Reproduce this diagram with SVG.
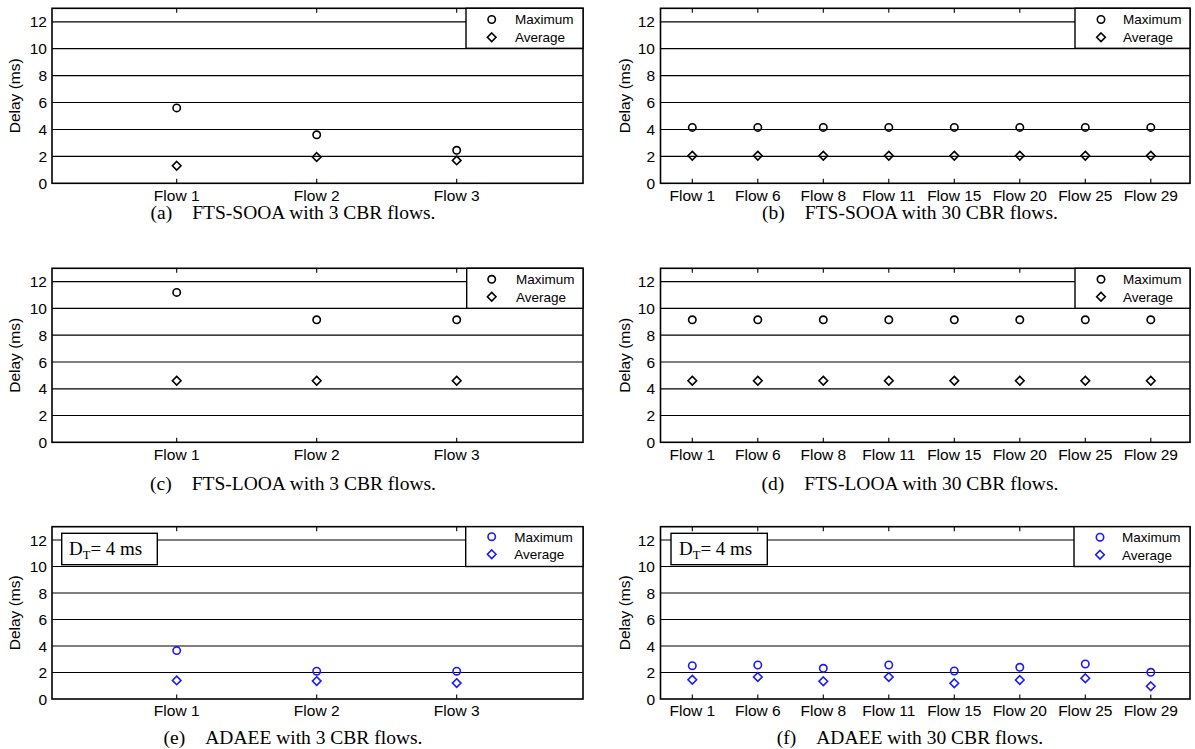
<svg xmlns="http://www.w3.org/2000/svg" xmlns:xlink="http://www.w3.org/1999/xlink" width="1195" height="749" viewBox="0 0 1195 749">
<style>
.bg{fill:#fff}
.grid{stroke:#000;stroke-width:1.2}
.tick{stroke:#000;stroke-width:1.1}
.box{fill:none;stroke:#000;stroke-width:1.6}
.lgb{fill:#fff;stroke:#000;stroke-width:1.4}
.t{font-family:"Liberation Sans",Arial,sans-serif;font-size:15.5px;fill:#000}
.ye{text-anchor:end}
.xm{text-anchor:middle}
.lg{font-family:"Liberation Sans",Arial,sans-serif;font-size:13.5px;fill:#000}
.cap{font-family:"Liberation Serif","Times New Roman",serif;font-size:19.5px;fill:#000;text-anchor:middle}
.dt{font-family:"Liberation Serif","Times New Roman",serif;font-size:19px;fill:#000}
.k{fill:none;stroke:#000;stroke-width:1.6}
.b{fill:none;stroke:#1a1aff;stroke-width:1.6}
</style>
<defs>
<circle id="mc" cx="0" cy="0" r="3.7"/>
<path id="md" d="M0,-4.3 L4.3,0 L0,4.3 L-4.3,0Z"/>
</defs>
<rect class="bg" x="0" y="0" width="1195" height="749"/>

<!-- Panel A -->
<g id="panel-a">
<g class="grid">
<line x1="52" y1="156.4" x2="583" y2="156.4"/><line x1="52" y1="129.5" x2="583" y2="129.5"/><line x1="52" y1="102.5" x2="583" y2="102.5"/><line x1="52" y1="75.6" x2="583" y2="75.6"/><line x1="52" y1="48.7" x2="583" y2="48.7"/><line x1="52" y1="21.8" x2="583" y2="21.8"/>
</g>
<g class="tick">
<line x1="176.7" y1="8.3" x2="176.7" y2="12.8"/><line x1="316.7" y1="8.3" x2="316.7" y2="12.8"/><line x1="456.7" y1="8.3" x2="456.7" y2="12.8"/>
<line x1="176.7" y1="183.3" x2="176.7" y2="178.8"/><line x1="316.7" y1="183.3" x2="316.7" y2="178.8"/><line x1="456.7" y1="183.3" x2="456.7" y2="178.8"/>
</g>
<rect class="box" x="52" y="8.3" width="531" height="175"/>
<g class="t ye">
<text x="47" y="188.9">0</text><text x="47" y="162">2</text><text x="47" y="135.1">4</text><text x="47" y="108.1">6</text><text x="47" y="81.2">8</text><text x="47" y="54.3">10</text><text x="47" y="27.4">12</text>
</g>
<text class="t xm" transform="translate(20,95.8) rotate(-90)">Delay (ms)</text>
<g class="t xm">
<text x="176.7" y="200.5">Flow 1</text><text x="316.7" y="200.5">Flow 2</text><text x="456.7" y="200.5">Flow 3</text>
</g>
<g id="legend-a">
<rect class="lgb" x="466" y="8.3" width="117" height="40"/>
<use href="#mc" class="k" x="491.7" y="19.5"/>
<use href="#md" class="k" x="491.7" y="37.3"/>
<text class="lg" x="515" y="24.3">Maximum</text>
<text class="lg" x="515" y="42">Average</text>
</g>
<g id="data-a">
<use href="#mc" class="k" x="176.7" y="107.9"/><use href="#md" class="k" x="176.7" y="165.8"/>
<use href="#mc" class="k" x="316.7" y="134.8"/><use href="#md" class="k" x="316.7" y="157"/>
<use href="#mc" class="k" x="456.7" y="150.3"/><use href="#md" class="k" x="456.7" y="160.4"/>
</g>
<text class="cap" x="293" y="219">(a)<tspan dx="20">FTS-SOOA with 3 CBR flows.</tspan></text>
</g>

<!-- Panel B -->
<g id="panel-b">
<g class="grid">
<line x1="660.5" y1="156.4" x2="1190" y2="156.4"/><line x1="660.5" y1="129.5" x2="1190" y2="129.5"/><line x1="660.5" y1="102.5" x2="1190" y2="102.5"/><line x1="660.5" y1="75.6" x2="1190" y2="75.6"/><line x1="660.5" y1="48.7" x2="1190" y2="48.7"/><line x1="660.5" y1="21.8" x2="1190" y2="21.8"/>
</g>
<g class="tick">
<line x1="692.3" y1="8.3" x2="692.3" y2="12.8"/><line x1="757.8" y1="8.3" x2="757.8" y2="12.8"/><line x1="823.3" y1="8.3" x2="823.3" y2="12.8"/><line x1="888.8" y1="8.3" x2="888.8" y2="12.8"/><line x1="954.3" y1="8.3" x2="954.3" y2="12.8"/><line x1="1019.8" y1="8.3" x2="1019.8" y2="12.8"/>
<line x1="692.3" y1="183.3" x2="692.3" y2="178.8"/><line x1="757.8" y1="183.3" x2="757.8" y2="178.8"/><line x1="823.3" y1="183.3" x2="823.3" y2="178.8"/><line x1="888.8" y1="183.3" x2="888.8" y2="178.8"/><line x1="954.3" y1="183.3" x2="954.3" y2="178.8"/><line x1="1019.8" y1="183.3" x2="1019.8" y2="178.8"/><line x1="1085.3" y1="183.3" x2="1085.3" y2="178.8"/><line x1="1150.8" y1="183.3" x2="1150.8" y2="178.8"/>
</g>
<rect class="box" x="660.5" y="8.3" width="529.5" height="175"/>
<g class="t ye">
<text x="655" y="188.9">0</text><text x="655" y="162">2</text><text x="655" y="135.1">4</text><text x="655" y="108.1">6</text><text x="655" y="81.2">8</text><text x="655" y="54.3">10</text><text x="655" y="27.4">12</text>
</g>
<text class="t xm" transform="translate(630,95.8) rotate(-90)">Delay (ms)</text>
<g class="t xm">
<text x="692.3" y="200.5">Flow 1</text><text x="757.8" y="200.5">Flow 6</text><text x="823.3" y="200.5">Flow 8</text><text x="888.8" y="200.5">Flow 11</text><text x="954.3" y="200.5">Flow 15</text><text x="1019.8" y="200.5">Flow 20</text><text x="1085.3" y="200.5">Flow 25</text><text x="1150.8" y="200.5">Flow 29</text>
</g>
<g id="legend-b">
<rect class="lgb" x="1075" y="8.3" width="115" height="40"/>
<use href="#mc" class="k" x="1101" y="19.5"/>
<use href="#md" class="k" x="1101" y="37.3"/>
<text class="lg" x="1123" y="24.3">Maximum</text>
<text class="lg" x="1123" y="42">Average</text>
</g>
<g id="data-b">
<use href="#mc" class="k" x="692.3" y="127.4"/><use href="#md" class="k" x="692.3" y="155.7"/>
<use href="#mc" class="k" x="757.8" y="127.4"/><use href="#md" class="k" x="757.8" y="155.7"/>
<use href="#mc" class="k" x="823.3" y="127.4"/><use href="#md" class="k" x="823.3" y="155.7"/>
<use href="#mc" class="k" x="888.8" y="127.4"/><use href="#md" class="k" x="888.8" y="155.7"/>
<use href="#mc" class="k" x="954.3" y="127.4"/><use href="#md" class="k" x="954.3" y="155.7"/>
<use href="#mc" class="k" x="1019.8" y="127.4"/><use href="#md" class="k" x="1019.8" y="155.7"/>
<use href="#mc" class="k" x="1085.3" y="127.4"/><use href="#md" class="k" x="1085.3" y="155.7"/>
<use href="#mc" class="k" x="1150.8" y="127.4"/><use href="#md" class="k" x="1150.8" y="155.7"/>
</g>
<text class="cap" x="910" y="219">(b)<tspan dx="20">FTS-SOOA with 30 CBR flows.</tspan></text>
</g>

<!-- Panel C -->
<g id="panel-c">
<g class="grid">
<line x1="52" y1="415.5" x2="583" y2="415.5"/><line x1="52" y1="388.8" x2="583" y2="388.8"/><line x1="52" y1="362" x2="583" y2="362"/><line x1="52" y1="335.2" x2="583" y2="335.2"/><line x1="52" y1="308.4" x2="583" y2="308.4"/><line x1="52" y1="281.7" x2="583" y2="281.7"/>
</g>
<g class="tick">
<line x1="176.7" y1="268.3" x2="176.7" y2="272.8"/><line x1="316.7" y1="268.3" x2="316.7" y2="272.8"/><line x1="456.7" y1="268.3" x2="456.7" y2="272.8"/>
<line x1="176.7" y1="442.3" x2="176.7" y2="437.8"/><line x1="316.7" y1="442.3" x2="316.7" y2="437.8"/><line x1="456.7" y1="442.3" x2="456.7" y2="437.8"/>
</g>
<rect class="box" x="52" y="268.3" width="531" height="174"/>
<g class="t ye">
<text x="47" y="447.9">0</text><text x="47" y="421.1">2</text><text x="47" y="394.4">4</text><text x="47" y="367.6">6</text><text x="47" y="340.8">8</text><text x="47" y="314">10</text><text x="47" y="287.3">12</text>
</g>
<text class="t xm" transform="translate(20,355.3) rotate(-90)">Delay (ms)</text>
<g class="t xm">
<text x="176.7" y="459.5">Flow 1</text><text x="316.7" y="459.5">Flow 2</text><text x="456.7" y="459.5">Flow 3</text>
</g>
<g id="legend-c">
<rect class="lgb" x="466.7" y="268.3" width="116.3" height="40"/>
<use href="#mc" class="k" x="491.7" y="279.3"/>
<use href="#md" class="k" x="491.7" y="296.7"/>
<text class="lg" x="516" y="284.1">Maximum</text>
<text class="lg" x="516" y="301.5">Average</text>
</g>
<g id="data-c">
<use href="#mc" class="k" x="176.7" y="292.4"/><use href="#md" class="k" x="176.7" y="380.7"/>
<use href="#mc" class="k" x="316.7" y="319.8"/><use href="#md" class="k" x="316.7" y="380.7"/>
<use href="#mc" class="k" x="456.7" y="319.8"/><use href="#md" class="k" x="456.7" y="380.7"/>
</g>
<text class="cap" x="293" y="490">(c)<tspan dx="20">FTS-LOOA with 3 CBR flows.</tspan></text>
</g>

<!-- Panel D -->
<g id="panel-d">
<g class="grid">
<line x1="660.5" y1="415.5" x2="1190" y2="415.5"/><line x1="660.5" y1="388.8" x2="1190" y2="388.8"/><line x1="660.5" y1="362" x2="1190" y2="362"/><line x1="660.5" y1="335.2" x2="1190" y2="335.2"/><line x1="660.5" y1="308.4" x2="1190" y2="308.4"/><line x1="660.5" y1="281.7" x2="1190" y2="281.7"/>
</g>
<g class="tick">
<line x1="692.3" y1="268.3" x2="692.3" y2="272.8"/><line x1="757.8" y1="268.3" x2="757.8" y2="272.8"/><line x1="823.3" y1="268.3" x2="823.3" y2="272.8"/><line x1="888.8" y1="268.3" x2="888.8" y2="272.8"/><line x1="954.3" y1="268.3" x2="954.3" y2="272.8"/><line x1="1019.8" y1="268.3" x2="1019.8" y2="272.8"/>
<line x1="692.3" y1="442.3" x2="692.3" y2="437.8"/><line x1="757.8" y1="442.3" x2="757.8" y2="437.8"/><line x1="823.3" y1="442.3" x2="823.3" y2="437.8"/><line x1="888.8" y1="442.3" x2="888.8" y2="437.8"/><line x1="954.3" y1="442.3" x2="954.3" y2="437.8"/><line x1="1019.8" y1="442.3" x2="1019.8" y2="437.8"/><line x1="1085.3" y1="442.3" x2="1085.3" y2="437.8"/><line x1="1150.8" y1="442.3" x2="1150.8" y2="437.8"/>
</g>
<rect class="box" x="660.5" y="268.3" width="529.5" height="174"/>
<g class="t ye">
<text x="655" y="447.9">0</text><text x="655" y="421.1">2</text><text x="655" y="394.4">4</text><text x="655" y="367.6">6</text><text x="655" y="340.8">8</text><text x="655" y="314">10</text><text x="655" y="287.3">12</text>
</g>
<text class="t xm" transform="translate(630,355.3) rotate(-90)">Delay (ms)</text>
<g class="t xm">
<text x="692.3" y="459.5">Flow 1</text><text x="757.8" y="459.5">Flow 6</text><text x="823.3" y="459.5">Flow 8</text><text x="888.8" y="459.5">Flow 11</text><text x="954.3" y="459.5">Flow 15</text><text x="1019.8" y="459.5">Flow 20</text><text x="1085.3" y="459.5">Flow 25</text><text x="1150.8" y="459.5">Flow 29</text>
</g>
<g id="legend-d">
<rect class="lgb" x="1075" y="268.3" width="115" height="40"/>
<use href="#mc" class="k" x="1101" y="279.3"/>
<use href="#md" class="k" x="1101" y="296.7"/>
<text class="lg" x="1123" y="284.1">Maximum</text>
<text class="lg" x="1123" y="301.5">Average</text>
</g>
<g id="data-d">
<use href="#mc" class="k" x="692.3" y="319.8"/><use href="#md" class="k" x="692.3" y="380.7"/>
<use href="#mc" class="k" x="757.8" y="319.8"/><use href="#md" class="k" x="757.8" y="380.7"/>
<use href="#mc" class="k" x="823.3" y="319.8"/><use href="#md" class="k" x="823.3" y="380.7"/>
<use href="#mc" class="k" x="888.8" y="319.8"/><use href="#md" class="k" x="888.8" y="380.7"/>
<use href="#mc" class="k" x="954.3" y="319.8"/><use href="#md" class="k" x="954.3" y="380.7"/>
<use href="#mc" class="k" x="1019.8" y="319.8"/><use href="#md" class="k" x="1019.8" y="380.7"/>
<use href="#mc" class="k" x="1085.3" y="319.8"/><use href="#md" class="k" x="1085.3" y="380.7"/>
<use href="#mc" class="k" x="1150.8" y="319.8"/><use href="#md" class="k" x="1150.8" y="380.7"/>
</g>
<text class="cap" x="910" y="490">(d)<tspan dx="20">FTS-LOOA with 30 CBR flows.</tspan></text>
</g>

<!-- Panel E -->
<g id="panel-e">
<g class="grid">
<line x1="52" y1="672.5" x2="583" y2="672.5"/><line x1="52" y1="646" x2="583" y2="646"/><line x1="52" y1="619.5" x2="583" y2="619.5"/><line x1="52" y1="593" x2="583" y2="593"/><line x1="52" y1="566.5" x2="583" y2="566.5"/><line x1="52" y1="540" x2="583" y2="540"/>
</g>
<g class="tick">
<line x1="176.7" y1="526.7" x2="176.7" y2="531.2"/><line x1="316.7" y1="526.7" x2="316.7" y2="531.2"/><line x1="456.7" y1="526.7" x2="456.7" y2="531.2"/>
<line x1="176.7" y1="699" x2="176.7" y2="694.5"/><line x1="316.7" y1="699" x2="316.7" y2="694.5"/><line x1="456.7" y1="699" x2="456.7" y2="694.5"/>
</g>
<rect class="box" x="52" y="526.7" width="531" height="172.3"/>
<g class="t ye">
<text x="47" y="704.6">0</text><text x="47" y="678.1">2</text><text x="47" y="651.6">4</text><text x="47" y="625.1">6</text><text x="47" y="598.6">8</text><text x="47" y="572.1">10</text><text x="47" y="545.6">12</text>
</g>
<text class="t xm" transform="translate(20,612.8) rotate(-90)">Delay (ms)</text>
<g class="t xm">
<text x="176.7" y="716.2">Flow 1</text><text x="316.7" y="716.2">Flow 2</text><text x="456.7" y="716.2">Flow 3</text>
</g>
<g id="dt-e">
<rect class="lgb" x="61.7" y="533.3" width="95.6" height="31.4"/>
<text class="dt" x="69" y="555">D<tspan font-size="12.5" dy="3.5">T</tspan><tspan dy="-3.5">= 4 ms</tspan></text>
</g>
<g id="legend-e">
<rect class="lgb" x="465.7" y="526.7" width="117.3" height="39.8"/>
<use href="#mc" class="b" x="491.7" y="536.7"/>
<use href="#md" class="b" x="491.7" y="554.3"/>
<text class="lg" x="514.3" y="541.5">Maximum</text>
<text class="lg" x="514.3" y="559.1">Average</text>
</g>
<g id="data-e">
<use href="#mc" class="b" x="176.7" y="650.6"/><use href="#md" class="b" x="176.7" y="680.4"/>
<use href="#mc" class="b" x="316.7" y="671.2"/><use href="#md" class="b" x="316.7" y="681.1"/>
<use href="#mc" class="b" x="456.7" y="671.2"/><use href="#md" class="b" x="456.7" y="683.1"/>
</g>
<text class="cap" x="293" y="743.5">(e)<tspan dx="20">ADAEE with 3 CBR flows.</tspan></text>
</g>

<!-- Panel F -->
<g id="panel-f">
<g class="grid">
<line x1="660.5" y1="672.5" x2="1190" y2="672.5"/><line x1="660.5" y1="646" x2="1190" y2="646"/><line x1="660.5" y1="619.5" x2="1190" y2="619.5"/><line x1="660.5" y1="593" x2="1190" y2="593"/><line x1="660.5" y1="566.5" x2="1190" y2="566.5"/><line x1="660.5" y1="540" x2="1190" y2="540"/>
</g>
<g class="tick">
<line x1="692.3" y1="526.7" x2="692.3" y2="531.2"/><line x1="757.8" y1="526.7" x2="757.8" y2="531.2"/><line x1="823.3" y1="526.7" x2="823.3" y2="531.2"/><line x1="888.8" y1="526.7" x2="888.8" y2="531.2"/><line x1="954.3" y1="526.7" x2="954.3" y2="531.2"/><line x1="1019.8" y1="526.7" x2="1019.8" y2="531.2"/>
<line x1="692.3" y1="699" x2="692.3" y2="694.5"/><line x1="757.8" y1="699" x2="757.8" y2="694.5"/><line x1="823.3" y1="699" x2="823.3" y2="694.5"/><line x1="888.8" y1="699" x2="888.8" y2="694.5"/><line x1="954.3" y1="699" x2="954.3" y2="694.5"/><line x1="1019.8" y1="699" x2="1019.8" y2="694.5"/><line x1="1085.3" y1="699" x2="1085.3" y2="694.5"/><line x1="1150.8" y1="699" x2="1150.8" y2="694.5"/>
</g>
<rect class="box" x="660.5" y="526.7" width="529.5" height="172.3"/>
<g class="t ye">
<text x="655" y="704.6">0</text><text x="655" y="678.1">2</text><text x="655" y="651.6">4</text><text x="655" y="625.1">6</text><text x="655" y="598.6">8</text><text x="655" y="572.1">10</text><text x="655" y="545.6">12</text>
</g>
<text class="t xm" transform="translate(630,612.8) rotate(-90)">Delay (ms)</text>
<g class="t xm">
<text x="692.3" y="716.2">Flow 1</text><text x="757.8" y="716.2">Flow 6</text><text x="823.3" y="716.2">Flow 8</text><text x="888.8" y="716.2">Flow 11</text><text x="954.3" y="716.2">Flow 15</text><text x="1019.8" y="716.2">Flow 20</text><text x="1085.3" y="716.2">Flow 25</text><text x="1150.8" y="716.2">Flow 29</text>
</g>
<g id="dt-f">
<rect class="lgb" x="671" y="533.3" width="96.3" height="31.4"/>
<text class="dt" x="679" y="555">D<tspan font-size="12.5" dy="3.5">T</tspan><tspan dy="-3.5">= 4 ms</tspan></text>
</g>
<g id="legend-f">
<rect class="lgb" x="1074" y="526.7" width="116" height="39.8"/>
<use href="#mc" class="b" x="1100" y="537.2"/>
<use href="#md" class="b" x="1100" y="554.8"/>
<text class="lg" x="1122" y="542">Maximum</text>
<text class="lg" x="1122" y="559.6">Average</text>
</g>
<g id="data-f">
<use href="#mc" class="b" x="692.3" y="665.7"/><use href="#md" class="b" x="692.3" y="679.7"/>
<use href="#mc" class="b" x="757.8" y="665"/><use href="#md" class="b" x="757.8" y="677"/>
<use href="#mc" class="b" x="823.3" y="668.3"/><use href="#md" class="b" x="823.3" y="681.3"/>
<use href="#mc" class="b" x="888.8" y="665"/><use href="#md" class="b" x="888.8" y="677"/>
<use href="#mc" class="b" x="954.3" y="671"/><use href="#md" class="b" x="954.3" y="683.3"/>
<use href="#mc" class="b" x="1019.8" y="667.3"/><use href="#md" class="b" x="1019.8" y="680"/>
<use href="#mc" class="b" x="1085.3" y="664"/><use href="#md" class="b" x="1085.3" y="678.3"/>
<use href="#mc" class="b" x="1150.8" y="672.3"/><use href="#md" class="b" x="1150.8" y="686.3"/>
</g>
<text class="cap" x="910" y="743.5">(f)<tspan dx="20">ADAEE with 30 CBR flows.</tspan></text>
</g>
</svg>
